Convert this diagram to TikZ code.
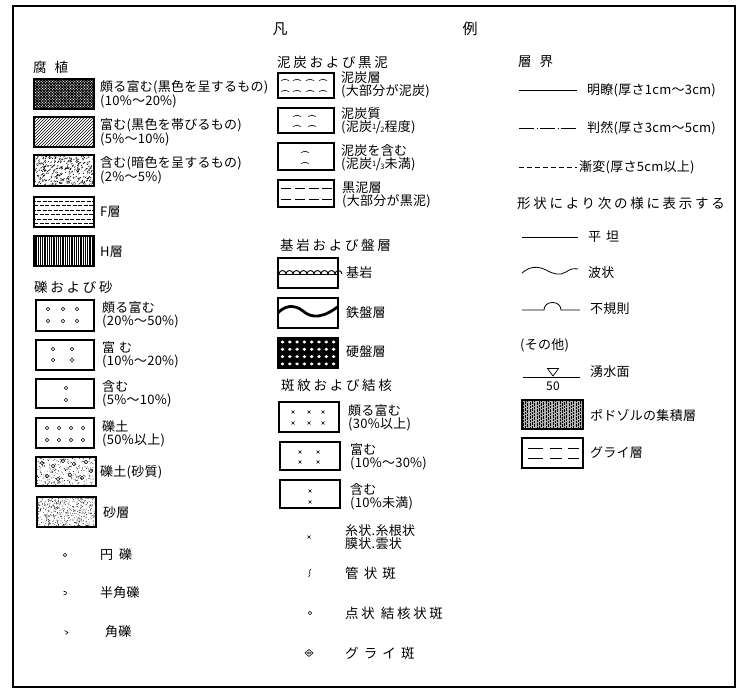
\documentclass[tikz,border=0pt]{standalone}
\usepackage{fontspec}
\newfontfamily\jpbody[LetterSpace=2]{Noto Sans CJK JP}
\newfontfamily\jphead[LetterSpace=20]{Noto Sans CJK JP}
\newfontfamily\jpwide[LetterSpace=38]{Noto Sans CJK JP}
\newcommand\myfrac[2]{\raisebox{2.5pt}{\fontsize{7.5}{7.5}\selectfont #1}\kern-0.5pt/\kern-0.5pt\raisebox{-1pt}{\fontsize{7.5}{7.5}\selectfont #2}}
\newcommand\xmk[2]{\draw[fine] ({#1-1.5},{#2-1.5}) -- ({#1+1.5},{#2+1.5}) ({#1-1.5},{#2+1.5}) -- ({#1+1.5},{#2-1.5});}
\newcommand\gcirc[2]{\draw[fine] (#1,#2) circle (1.8pt);}
\newcommand\peatdash[2]{\draw[fine] ({#1-4},{#2+0.5}) .. controls ({#1-1},{#2-1.2}) and ({#1+1},{#2-1.2}) .. ({#1+4},{#2+0.5});}
\tikzset{
  lbl/.style={anchor=west, inner sep=0pt, align=left, font=\jpbody\fontsize{13}{13}\selectfont},
  hdr/.style={anchor=west, inner sep=0pt, font=\jphead\fontsize{13.5}{13}\selectfont},
  wlbl/.style={anchor=west, inner sep=0pt, font=\jpwide\fontsize{13.5}{13}\selectfont},
  boxline/.style={draw=black, line width=1.1pt},
  fine/.style={line width=0.6pt},
  legline/.style={line width=0.8pt},
}
\begin{document}
\begin{tikzpicture}[x=1pt,y=-1pt]
\useasboundingbox (0,0) rectangle (737,692);
\fill[white] (0,0) rectangle (737,692);
\draw[line width=1.3pt] (13,6) rectangle (735,687);
\pgfmathsetseed{7}
% title
\node[font=\jpbody\fontsize{15}{15}\selectfont, inner sep=0pt] (title1) at (280,29) {凡};
\node[font=\jpbody\fontsize{15}{15}\selectfont, inner sep=0pt] (title2) at (470,29) {例};

% ================= column 1 =================
\node[hdr] (h1) at (33,67) {腐\hspace{8pt}植};
% B1 very dark crosshatch
\begin{scope}
\clip (34,79) rectangle (94,109);
\foreach \k in {-33,-30.2,...,62}{\draw[line width=0.8pt] ({34+\k},109) -- ++(30,-30); \draw[line width=0.8pt] ({34+\k},79) -- ++(30,30);}
\end{scope}
\draw[boxline] (34,79) rectangle (94,109);
\node[lbl] (t11) at (100,94) {頗る富む(黒色を呈するもの)\\(10\%〜20\%)};
% B2 diagonal lines
\begin{scope}
\clip (34,117) rectangle (94,147);
\foreach \k in {-33,-30,...,63}{\draw[line width=0.7pt] ({34+\k},147) -- ++(30,-30);}
\end{scope}
\draw[boxline] (34,117) rectangle (94,147);
\node[lbl] (t12) at (100,132) {富む(黒色を帯びるもの)\\(5\%〜10\%)};
% B3 stipple strokes
\begin{scope}
\clip (34,155) rectangle (94,186);
\foreach \i in {1,...,330}{\draw[line width=0.5pt] ({34+60*rnd},{155+31*rnd}) -- ++(1.2,-1.2);}
\end{scope}
\draw[boxline] (34,155) rectangle (94,186);
\node[lbl] (t13) at (100,170) {含む(暗色を呈するもの)\\(2\%〜5\%)};
% B4 F layer
\begin{scope}
\clip (34,197) rectangle (94,227);
\foreach \r [count=\c] in {201,205.5,210,214.5,219,223.5}{
  \pgfmathsetmacro\ph{mod(\c,2)*2.5}
  \draw[line width=0.7pt, dash pattern=on 4pt off 1.5pt, dash phase=\ph pt] (34,\r) -- (94,\r);}
\end{scope}
\draw[boxline] (34,197) rectangle (94,227);
\node[lbl] (t14) at (100,212) {F層};
% B5 H layer
\begin{scope}
\clip (34,236) rectangle (94,266);
\foreach \x in {35,36.8,...,94}{\draw[line width=0.75pt] (\x,236) -- (\x,266);}
\end{scope}
\draw[boxline] (34,236) rectangle (94,266);
\node[lbl] (t15) at (100,252) {H層};

\node[hdr] (h2) at (34,287) {礫および砂};
\draw[boxline] (36,300) rectangle (94,331);
\foreach \x in {48,63,77}{\gcirc{\x}{309}\gcirc{\x}{321}}
\node[lbl] (t21) at (102,315) {頗る富む\\(20\%〜50\%)};
\draw[boxline] (36,340) rectangle (94,370);
\foreach \x in {53,72}{\gcirc{\x}{349}\gcirc{\x}{360}}
\node[lbl] (t22) at (102,355) {富\hspace{4pt}む\\(10\%〜20\%)};
\draw[boxline] (36,379) rectangle (94,408);
\gcirc{66}{388}\gcirc{66}{400}
\node[lbl] (t23) at (102,394) {含む\\(5\%〜10\%)};
\draw[boxline] (36,418) rectangle (94,448);
\foreach \x in {47,59,71,83}{\gcirc{\x}{428}\gcirc{\x}{440}}
\node[lbl] (t24) at (102,434) {礫土\\(50\%以上)};
% G5 gravel sandy
\begin{scope}
\clip (36,457) rectangle (96,486);
\foreach \i in {1,...,260}{\fill ({36+60*rnd},{457+29*rnd}) circle (0.45pt);}
\foreach \p/\q in {42/463,53/466,63/461,74/464,86/462,47/476,58/479,70/475,82/478,91/471}{\draw[line width=0.5pt] (\p,\q) circle (1.7pt);}
\end{scope}
\draw[boxline] (36,457) rectangle (96,486);
\node[lbl] (t25) at (100,472) {礫土(砂質)};
% G6 sand
\begin{scope}
\clip (37,497) rectangle (96,527);
\foreach \i in {1,...,480}{\fill ({37+59*rnd},{497+30*rnd}) circle (0.42pt);}
\end{scope}
\draw[boxline] (37,497) rectangle (96,527);
\node[lbl] (t26) at (103,513) {砂層};
% symbols
\draw[fine] (65,555) circle (1.8pt);
\node[lbl] (t27) at (100,555) {円\hspace{6pt}礫};
\draw[fine] (63.5,591.3) .. controls (67.5,591) and (67.5,595) .. (63.5,595);
\node[lbl] (t28) at (100,593) {半角礫};
\draw[fine] (64.5,630.5) -- (68,632.5) -- (65.5,634.5);
\node[lbl] (t29) at (105,632) {角礫};

% ================= column 2 =================
\node[hdr] (h3) at (277,62) {泥炭および黒泥};
\draw[boxline] (278,73) rectangle (334,98);
\foreach \x in {285,297,310,323}{\peatdash{\x}{80}\peatdash{\x}{91}}
\node[lbl] (t31) at (341,85) {泥炭層\\(大部分が泥炭)};
\draw[boxline] (278,108) rectangle (334,133);
\foreach \x in {297,312}{\peatdash{\x}{116}\peatdash{\x}{126}}
\node[lbl] (t32) at (341,121) {泥炭質\\(泥炭\myfrac12程度)};
\draw[boxline] (278,143) rectangle (334,170);
\peatdash{305}{152}\peatdash{305}{163}
\node[lbl] (t33) at (341,158) {泥炭を含む\\(泥炭\myfrac13未満)};
\draw[boxline] (278,180) rectangle (334,207);
\foreach \y in {188,199}{\foreach \x in {281,295,309,322}{\draw[fine] (\x,\y) -- ({\x+10},\y);}}
\node[lbl] (t34) at (342,195) {黒泥層\\(大部分が黒泥)};

\node[hdr] (h4) at (280,245) {基岩および盤層};
% bedrock
\draw[boxline] (278,258) rectangle (338,288);
\draw[line width=0.9pt] (278,274) -- (338,274);
\foreach \x in {279,286,...,335}{\draw[line width=0.9pt] (\x,274) arc (180:0:3.5pt);}
\node[lbl] (t41) at (346,273) {基岩};
% iron pan
\begin{scope}
\clip (278,298) rectangle (338,328);
\draw[line width=2.8pt] (276,315) .. controls (284,305) and (294,304) .. (303,311) .. controls (312,319) and (324,318) .. (340,305);
\end{scope}
\draw[boxline] (278,298) rectangle (338,328);
\node[lbl] (t42) at (346,313) {鉄盤層};
% hardpan
\fill[black] (278,338) rectangle (338,368);
\foreach \i in {0,...,7}{\foreach \j in {0,...,3}{\fill[white] ({282.5+\i*7.3},{342+\j*7.3}) ellipse (1.9pt and 1.6pt);}}
\draw[boxline] (278,338) rectangle (338,368);
\node[lbl] (t43) at (346,352) {硬盤層};

\node[hdr] (h5) at (281,385) {斑紋および結核};
\draw[boxline] (279,402) rectangle (339,432);
\foreach \x in {293,309,323}{\xmk{\x}{412}\xmk{\x}{423}}
\node[lbl] (t51) at (348,418) {頗る富む\\(30\%以上)};
\draw[boxline] (280,442) rectangle (340,470);
\foreach \x in {300,318}{\xmk{\x}{452}\xmk{\x}{462}}
\node[lbl] (t52) at (350,457) {富む\\(10\%〜30\%)};
\draw[boxline] (280,480) rectangle (340,508);
\xmk{310}{491}\xmk{310}{502}
\node[lbl] (t53) at (350,497) {含む\\(10\%未満)};
\xmk{309}{537}
\node[lbl] (t54) at (345,537) {糸状.糸根状\\膜状.雲状};
\draw[fine] (311,569) .. controls (307.5,571) and (312,574.5) .. (308.5,577);
\node[wlbl] (t55) at (345,573) {管状斑};
\draw[fine] (310,613) circle (1.8pt);
\node[hdr] (t56) at (345,613) {点状\hspace{6pt}結核状斑};
\draw[fine] (305,653) -- (309,649.5) -- (313,653) -- (309,656.5) -- cycle;
\draw[line width=0.5pt] (309,653) ellipse (1.8pt and 1.1pt);
\node[wlbl] (t57) at (345,653) {グライ斑};

% ================= column 3 =================
\node[hdr] (h6) at (518,62) {層\hspace{8pt}界};
\coordinate (l1a) at (519,90); \coordinate (l1b) at (577,90);
\draw[legline] (l1a) -- (l1b);
\node[lbl] (t61) at (587,90) {明瞭(厚さ1cm〜3cm)};
\coordinate (l2a) at (519,128); \coordinate (l2b) at (577,128);
\draw[legline, dash pattern=on 15pt off 2.5pt on 1pt off 2.5pt] (l2a) -- (l2b);
\node[lbl] (t62) at (587,128) {判然(厚さ3cm〜5cm)};
\coordinate (l3a) at (519,167); \coordinate (l3b) at (577,167);
\draw[legline, dash pattern=on 5pt off 3pt] (l3a) -- (l3b);
\node[lbl] (t63) at (579,167) {漸変(厚さ5cm以上)};
\node[hdr] (h7) at (517,203) {形状により次の様に表示する};
\coordinate (l4a) at (522,237); \coordinate (l4b) at (578,237);
\draw[legline] (l4a) -- (l4b);
\node[lbl] (t64) at (588,237) {平\hspace{5pt}坦};
\draw[legline] (522,273) .. controls (530,266) and (538,266) .. (546,270) .. controls (553,274) and (560,276) .. (566,272) .. controls (570,269) and (574,268) .. (578,269);
\node[lbl] (t65) at (588,273) {波状};
\draw[legline] (522,310) -- (544,310) .. controls (544,300) and (561,300) .. (561,310) -- (580,310);
\node[lbl] (t66) at (590,309) {不規則};
\node[lbl] (h8) at (520,345) {(その他)};
\draw[legline] (523,377) -- (580,377);
\draw[line width=0.7pt] (547.5,368.5) -- (558.5,368.5) -- (553,376) -- cycle;
\node[font=\jpbody\fontsize{12}{12}\selectfont, inner sep=0pt] (t50) at (553,386) {50};
\node[lbl] (t67) at (590,372) {湧水面};
% podzol
\begin{scope}
\clip (522,400) rectangle (583,429);
\fill[black!30] (522,400) rectangle (583,429);
\foreach \x [count=\c] in {523,525.3,...,583}{
  \pgfmathsetmacro\ph{mod(\c,3)*1.2}
  \draw[line width=0.6pt, dash pattern=on 2.5pt off 1pt, dash phase=\ph pt] (\x,400) -- (\x,429);}
\end{scope}
\draw[boxline] (522,400) rectangle (583,429);
\node[lbl] (t68) at (590,415) {ポドゾルの集積層};
% gley
\draw[boxline] (522,438) rectangle (583,468);
\foreach \a/\b in {528/543,550/562,568/579}{\draw[fine] (\a,448) -- (\b,448) (\a,458) -- (\b,458);}
\node[lbl] (t69) at (590,453) {グライ層};
\end{tikzpicture}
\end{document}
